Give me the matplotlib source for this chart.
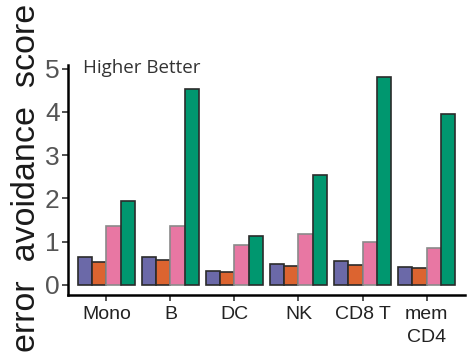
import matplotlib
matplotlib.use("Agg")
import matplotlib.pyplot as plt
import numpy as np

plt.rcParams['font.family'] = ['Liberation Sans', 'DejaVu Sans']

# data
cell_types = ["Mono", "B", "DC", "NK", "CD8 T", "mem\nCD4"]
series_purple = [0.64, 0.64, 0.32, 0.48, 0.55, 0.41]
series_orange = [0.53, 0.57, 0.30, 0.44, 0.46, 0.39]
series_pink = [1.37, 1.37, 0.92, 1.17, 1.00, 0.85]
series_green = [1.94, 4.52, 1.12, 2.53, 4.81, 3.96]
y_ticks = [0, 1, 2, 3, 4, 5]

all_series = [series_purple, series_orange, series_pink, series_green]
colors = ["#6b69a8", "#dc6430", "#e877a3", "#00976f"]
edges = ["#2b2b2b", "#2b2b2b", "#8a8a8a", "#2b2b2b"]

fig = plt.figure(figsize=(4.75, 3.54), dpi=100)
ax = fig.add_axes([0.143, 0.167, 0.836, 0.649])

x = np.arange(1, len(cell_types) + 1)
bw = 0.225
for i, (vals, c, ec) in enumerate(zip(all_series, colors, edges)):
	offs = (i - 1.5) * bw
	ax.bar(x + offs, vals, width=bw, color=c, edgecolor=ec, linewidth=1.2)

ax.set_xlim(0.4, 6.6)
ax.set_ylim(-0.23, 5.08)
ax.set_yticks(y_ticks)
ax.set_yticklabels([str(t) for t in y_ticks], fontsize=19, color="#555555")
ax.set_xticks(x)
ax.set_xticklabels(cell_types, fontsize=14, color="#222222", linespacing=1.45)

ax.spines['top'].set_visible(False)
ax.spines['right'].set_visible(False)
for s in ['left', 'bottom']:
	ax.spines[s].set_linewidth(1.8)
	ax.spines[s].set_color("black")
ax.tick_params(axis='both', length=4, width=1.2, color="#333333")
ax.tick_params(axis='y', pad=2)
ax.tick_params(axis='x', pad=4)

ax.text(0.64, 5.02, "Higher Better", fontsize=13.5, color="#333333",
	va='center', ha='left', family=['Open Sans', 'DejaVu Sans'])

fig.text(0.055, 0.497, "error  avoidance  score", rotation=90, fontsize=24.5,
	color="#1a1a1a", ha='center', va='center')

fig.savefig("out.png", dpi=100)
